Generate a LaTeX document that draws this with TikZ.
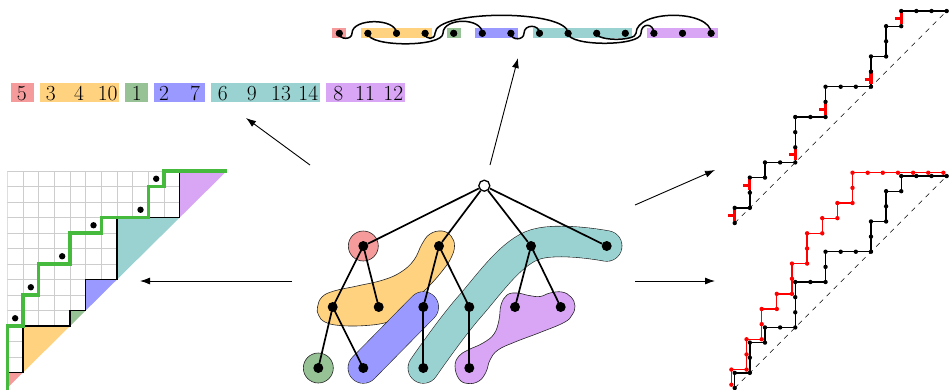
\documentclass[tikz,border=0pt]{standalone}
\usetikzlibrary{arrows.meta}
\definecolor{cpink}{RGB}{245,155,155}
\definecolor{corange}{RGB}{255,210,128}
\definecolor{cgreen}{RGB}{150,194,150}
\definecolor{cblue}{RGB}{153,153,255}
\definecolor{cteal}{RGB}{153,210,208}
\definecolor{cpurple}{RGB}{216,166,245}
\definecolor{gpath}{RGB}{70,186,60}
\definecolor{gridgray}{RGB}{205,205,205}
\begin{document}
\begin{tikzpicture}[x=1pt,y=-1pt,
  dot/.style={circle,fill=black,inner sep=0pt,minimum size=10pt},
  sdot/.style={circle,fill=black,inner sep=0pt,minimum size=7pt},
  rootnode/.style={circle,draw=black,fill=white,line width=1.3pt,inner sep=0pt,minimum size=11pt},
  edge/.style={line width=1.7pt},
  arcline/.style={line width=1.5pt},
  arr/.style={line width=0.9pt,-{Latex[length=10pt,width=7pt]}},
  blob/.style={draw=black!85,line width=0.6pt},
  num/.style={anchor=base,inner sep=0pt,font=\fontsize{21.5}{25}\selectfont},
  dpath/.style={line width=1.3pt,line join=round},
  diag/.style={line width=0.6pt,dash pattern=on 5pt off 5pt},
  redmark/.style={red,line width=3.2pt},
  gridline/.style={gridgray,line width=0.6pt}]
\useasboundingbox (0,0) rectangle (949,389);

% ---------- number row ----------
\fill[cpink]   (11,82.7) rectangle (34,101.7);
\fill[corange] (40,82.7) rectangle (119.3,101.7);
\fill[cgreen]  (125.3,82.7) rectangle (148,101.7);
\fill[cblue]   (154,82.7) rectangle (205.3,101.7);
\fill[cteal]   (211.3,82.7) rectangle (320,101.7);
\fill[cpurple] (326,82.7) rectangle (405.3,101.7);
\node[num] (n0) at (21.7,100) {5};
\node[num] (n1) at (50.7,100) {3};
\node[num] (n2) at (79,100) {4};
\node[num] (n3) at (107.7,100) {10};
\node[num] (n4) at (136.7,100) {1};
\node[num] (n5) at (164,100) {2};
\node[num] (n6) at (195,100) {7};
\node[num] (n7) at (222.7,100) {6};
\node[num] (n8) at (251.7,100) {9};
\node[num] (n9) at (281,100) {13};
\node[num] (n10) at (308.3,100) {14};
\node[num] (n11) at (338.3,100) {8};
\node[num] (n12) at (365,100) {11};
\node[num] (n13) at (393.3,100) {12};

% ---------- top strip ----------
\fill[cpink]   (332.3,27.7) rectangle (346.3,38.3);
\fill[corange] (360.9,27.7) rectangle (432.1,38.3);
\fill[cgreen]  (446.7,27.7) rectangle (460.7,38.3);
\fill[cblue]   (475.3,27.7) rectangle (517.9,38.3);
\fill[cteal]   (532.5,27.7) rectangle (632.3,38.3);
\fill[cpurple] (646.9,27.7) rectangle (718.1,38.3);
\foreach \i in {0,...,13} {
  \node[sdot] (s\i) at ({339.3+28.6*\i},33.3) {};
}
\coordinate (rA) at (352,33.3);
\coordinate (rB) at (443,33.3);
\coordinate (rC) at (435,33.3);
\coordinate (rD) at (524,33.3);
\coordinate (rE) at (641,33.3);
\coordinate (rF) at (636,33.3);
\draw[arcline] (s0.center) .. controls +(0,6.7) and +(0,6.7) .. (rA) .. controls +(0,-15.5) and +(0,-15.5) .. (s2.center);
\draw[arcline] (s1.center) .. controls +(0,14) and +(0,14) .. (rB) .. controls +(0,-16) and +(0,-16) .. (s5.center);
\draw[arcline] (s3.center) .. controls +(0,6.7) and +(0,6.7) .. (rC) .. controls +(0,-24) and +(0,-24) .. (s8.center);
\draw[arcline] (s6.center) .. controls +(0,7.3) and +(0,7.3) .. (rD) .. controls +(0,-9.3) and +(0,-9.3) .. (s7.center);
\draw[arcline] (s8.center) .. controls +(0,13.3) and +(0,13.3) .. (rE) .. controls +(0,-10.7) and +(0,-10.7) .. (s11.center);
\draw[arcline] (s9.center) .. controls +(0,8) and +(0,8) .. (rF) .. controls +(0,-24) and +(0,-24) .. (s13.center);
\foreach \i in {0,...,13} { \fill (s\i) circle (3.5pt); }

% ---------- tree blobs ----------
\filldraw[blob,fill=cpink] (363.3,246) circle (15pt);
\filldraw[blob,fill=cgreen] (318.3,368) circle (15pt);
\filldraw[blob,fill=corange] plot[smooth cycle,tension=0.7] coordinates {(317.5,307) (322,297) (334,291) (357,286) (383,280) (401,272) (414,260) (422,244) (430,234) (442,231) (451,236) (454.5,246) (451,258) (443,270) (431,284) (415,300) (400,315) (388,322) (366,325.5) (340,325.5) (325,322) (318.5,315)};
\draw[black!85,line width=31.2pt,line cap=round] (363.3,368) -- (423.3,307);
\draw[cblue,line width=30pt,line cap=round] (363.3,368) -- (423.3,307);
\draw[black!85,line width=31.2pt,line cap=round,line join=round] plot[smooth,tension=0.6] coordinates {(423.3,368) (469.3,307) (531,246) (606.7,246)};
\draw[cteal,line width=30pt,line cap=round,line join=round] plot[smooth,tension=0.6] coordinates {(423.3,368) (469.3,307) (531,246) (606.7,246)};
\filldraw[blob,fill=cpurple] plot[smooth cycle,tension=0.7] coordinates {(455,366) (459,356) (468,350) (483,343) (494,334) (499,320) (501,305) (507,295) (517,293) (529,295.5) (540,296.5) (550,293) (562,292) (571,297) (575,306) (572,315) (564,322.5) (540,332.5) (515,342) (498,350) (490,360) (486,372) (479,381) (468,383.5) (459,379)};

% ---------- tree ----------
\node[rootnode] (r) at (484.3,185.7) {};
\node[dot] (a1) at (363.3,246) {};
\node[dot] (a2) at (439,246) {};
\node[dot] (a3) at (531,246) {};
\node[dot] (a4) at (606.7,246) {};
\node[dot] (b1) at (332.7,307) {};
\node[dot] (b2) at (378.7,307) {};
\node[dot] (b3) at (423.3,307) {};
\node[dot] (b4) at (469.3,307) {};
\node[dot] (b5) at (515,307) {};
\node[dot] (b6) at (560.7,307) {};
\node[dot] (c1) at (318.3,368) {};
\node[dot] (c2) at (363.3,368) {};
\node[dot] (c3) at (423.3,368) {};
\node[dot] (c4) at (469.3,368) {};
\draw[edge] (r) -- (a1);
\draw[edge] (r) -- (a2);
\draw[edge] (r) -- (a3);
\draw[edge] (r) -- (a4);
\draw[edge] (a1.center) -- (b1.center);
\draw[edge] (a1.center) -- (b2.center);
\draw[edge] (a2.center) -- (b3.center);
\draw[edge] (a2.center) -- (b4.center);
\draw[edge] (a3.center) -- (b5.center);
\draw[edge] (a3.center) -- (b6.center);
\draw[edge] (b1.center) -- (c1.center);
\draw[edge] (b1.center) -- (c2.center);
\draw[edge] (b3.center) -- (c3.center);
\draw[edge] (b4.center) -- (c4.center);

% ---------- arrows ----------
\coordinate (p1s) at (310,165); \coordinate (p1e) at (246,118);
\coordinate (p2s) at (490,165); \coordinate (p2e) at (518,58);
\coordinate (p3s) at (635,205); \coordinate (p3e) at (715,170);
\coordinate (p4s) at (292,281); \coordinate (p4e) at (140,281);
\coordinate (p5s) at (635,281); \coordinate (p5e) at (715,281);
\draw[arr] (p1s) -- (p1e);
\draw[arr] (p2s) -- (p2e);
\draw[arr] (p3s) -- (p3e);
\draw[arr] (p4s) -- (p4e);
\draw[arr] (p5s) -- (p5e);

% ---------- left grid ----------
\begin{scope}[shift={(7.33,388)},x=15.67pt,y=15.5pt]
  \fill[cpink] (0,0) -- (0,1) -- (1,1) -- cycle;
  \fill[corange] (1,1) -- (1,4) -- (4,4) -- cycle;
  \fill[cgreen] (4,4) -- (4,5) -- (5,5) -- cycle;
  \fill[cblue] (5,5) -- (5,7) -- (7,7) -- cycle;
  \fill[cteal] (7,7) -- (7,11) -- (11,11) -- cycle;
  \fill[cpurple] (11,11) -- (11,14) -- (14,14) -- cycle;
  \begin{scope}
    \clip (0,1) -- (1,1) -- (1,4) -- (4,4) -- (4,5) -- (5,5) -- (5,7) -- (7,7) -- (7,11) -- (11,11) -- (11,14) -- (0,14) -- cycle;
    \foreach \i in {0,...,14} {
      \draw[gridline] (\i,0) -- (\i,14);
      \draw[gridline] (0,\i) -- (14,\i);
    }
  \end{scope}
  \draw[line width=1.3pt,line join=miter] (0,1) -- (1,1) -- (1,4) -- (4,4) -- (4,5) -- (5,5) -- (5,7) -- (7,7) -- (7,11) -- (11,11) -- (11,14);
  \draw[gpath,line width=3.2pt,line join=miter] (0,-0.2) -- (0,4) -- (1,4) -- (1,6) -- (2,6) -- (2,8) -- (4,8) -- (4,10) -- (6,10) -- (6,11) -- (9,11) -- (9,13) -- (10,13) -- (10,14) -- (14,14);
  \foreach \x/\y in {0.5/4.5,1.5/6.5,3.5/8.5,5.5/10.5,8.5/11.5,9.5/13.5} { \fill (\x,\y) circle (3.2pt); }
\end{scope}

% ---------- top-right Dyck path ----------
\begin{scope}[shift={(734.7,223)},x=15.14pt,y=15.14pt]
  \draw[diag] (0,0) -- (14,14);
  \draw[dpath] (0,0) -- (0,1) -- (1,1) -- (1,3) -- (2,3) -- (2,4) -- (4,4) -- (4,7) -- (6,7) -- (6,9) -- (9,9) -- (9,11) -- (10,11) -- (10,13) -- (11,13) -- (11,14) -- (14,14);
  \foreach \x/\y in {0/0,1/2,4/4,6/7,9/9,11/13} {
    \draw[redmark] (\x,\y+0.15) -- (\x,\y+1.08);
    \draw[red,line width=3pt] (\x-0.42,\y+0.5) -- (\x,\y+0.5);
  }
  \foreach \x/\y in {0/0,0/1,1/1,1/2,1/3,2/3,2/4,3/4,4/4,4/5,4/6,4/7,5/7,6/7,6/8,6/9,7/9,8/9,9/9,9/10,9/11,10/11,10/12,10/13,11/13,11/14,12/14,13/14,14/14} { \fill (\x,\y) circle (2.2pt); }
\end{scope}

% ---------- bottom-right Dyck paths ----------
\begin{scope}[shift={(734.7,388)},x=15.14pt,y=15.14pt]
  \draw[diag] (0,0) -- (14,14);
  \draw[dpath] (0,0) -- (0,1) -- (1,1) -- (1,3) -- (2,3) -- (2,4) -- (4,4) -- (4,7) -- (6,7) -- (6,9) -- (9,9) -- (9,11) -- (10,11) -- (10,13) -- (11,13) -- (11,14) -- (14,14);
  \foreach \x/\y in {0/0,0/1,1/1,1/2,1/3,2/3,2/4,3/4,4/4,4/5,4/6,4/7,5/7,6/7,6/8,6/9,7/9,8/9,9/9,9/10,9/11,10/11,10/12,10/13,11/13,11/14,12/14,13/14,14/14} { \fill (\x,\y) circle (2.2pt); }
\end{scope}
\begin{scope}[shift={(731.4,384.7)},x=15.14pt,y=15.14pt]
  \draw[dpath,red] (0,0) -- (0,1) -- (1,1) -- (1,3) -- (2,3) -- (2,5) -- (3,5) -- (3,6) -- (4,6) -- (4,8) -- (5,8) -- (5,10) -- (6,10) -- (6,11) -- (7,11) -- (7,12) -- (8,12) -- (8,14) -- (14,14);
  \foreach \x/\y in {0/0,0/1,1/1,1/2,1/3,2/3,2/4,2/5,3/5,3/6,4/6,4/7,4/8,5/8,5/9,5/10,6/10,6/11,7/11,7/12,8/12,8/13,8/14,9/14,10/14,11/14,12/14,13/14,14/14} { \fill[red] (\x,\y) circle (2.2pt); }
\end{scope}
\end{tikzpicture}
\end{document}
